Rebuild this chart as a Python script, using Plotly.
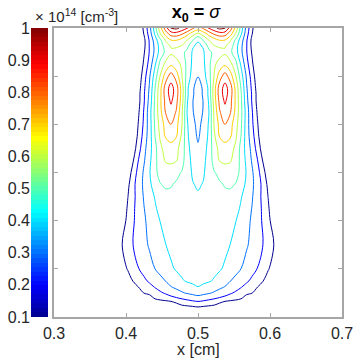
import numpy as np
import plotly.graph_objects as go

# ---------------- data ----------------
# density (x 10^14 cm^-3) on a grid, right half only (the map is symmetric about x = 0.5)
# columns: offset from x = 0.5 [cm]; rows: y [cm], top -> bottom
dx_half = [0, 0.0075, 0.015, 0.0225, 0.03, 0.0375, 0.045, 0.0525, 0.06,
           0.0675, 0.075, 0.0825, 0.09, 0.0975, 0.105, 0.1125, 0.12]

y_rows = [0.6, 0.5875, 0.575, 0.5625, 0.55, 0.525, 0.5, 0.475, 0.4625, 0.45,
          0.425, 0.4, 0.375, 0.35, 0.325, 0.3, 0.275, 0.25, 0.225, 0.2, 0.15,
          0.1, 0.075, 0.0625, 0.05, 0.0375, 0.025, 0.0125, 0.0]

density_half = [
    [0.76, 0.82, 0.91, 0.97, 1.03, 1.01, 0.853, 0.668, 0.452, 0.26, 0.125, 0, 0, 0, 0, 0, 0],
    [0.57, 0.64, 0.73, 0.81, 0.85, 0.84, 0.74, 0.59, 0.41, 0.24, 0.105, 0, 0, 0, 0, 0, 0],
    [0.41, 0.51, 0.60, 0.66, 0.705, 0.70, 0.61, 0.48, 0.345, 0.21, 0.075, 0, 0, 0, 0, 0, 0],
    [0.38, 0.41, 0.53, 0.595, 0.615, 0.61, 0.55, 0.44, 0.32, 0.205, 0.075, 0, 0, 0, 0, 0, 0],
    [0.36, 0.39, 0.475, 0.526, 0.56, 0.58, 0.52, 0.44, 0.32, 0.205, 0.09, 0, 0, 0, 0, 0, 0],
    [0.33, 0.38, 0.47, 0.584, 0.637, 0.68, 0.626, 0.53, 0.38, 0.235, 0.12, 0, 0, 0, 0, 0, 0],
    [0.302, 0.36, 0.46, 0.605, 0.753, 0.85, 0.747, 0.605, 0.443, 0.285, 0.155, 0.036, 0, 0, 0, 0, 0],
    [0.27, 0.31, 0.42, 0.66, 0.85, 0.94, 0.85, 0.67, 0.49, 0.31, 0.18, 0.06, 0, 0, 0, 0, 0],
    [0.265, 0.31, 0.42, 0.66, 0.85, 0.94, 0.85, 0.675, 0.505, 0.32, 0.19, 0.07, 0, 0, 0, 0, 0],
    [0.265, 0.303, 0.41, 0.65, 0.83, 0.92, 0.83, 0.68, 0.51, 0.33, 0.19, 0.07, 0, 0, 0, 0, 0],
    [0.27, 0.305, 0.395, 0.62, 0.79, 0.86, 0.805, 0.67, 0.52, 0.355, 0.21, 0.09, 0, 0, 0, 0, 0],
    [0.28, 0.32, 0.41, 0.61, 0.73, 0.802, 0.735, 0.64, 0.51, 0.35, 0.22, 0.11, 0, 0, 0, 0, 0],
    [0.29, 0.33, 0.42, 0.58, 0.705, 0.73, 0.71, 0.615, 0.495, 0.35, 0.24, 0.13, 0.015, 0, 0, 0, 0],
    [0.31, 0.36, 0.43, 0.56, 0.625, 0.67, 0.64, 0.575, 0.465, 0.36, 0.27, 0.16, 0.05, 0, 0, 0, 0],
    [0.335, 0.375, 0.44, 0.54, 0.605, 0.62, 0.61, 0.555, 0.47, 0.375, 0.29, 0.205, 0.095, 0, 0, 0, 0],
    [0.365, 0.39, 0.44, 0.495, 0.52, 0.55, 0.55, 0.52, 0.485, 0.39, 0.315, 0.235, 0.145, 0.035, 0, 0, 0],
    [0.39, 0.405, 0.43, 0.46, 0.49, 0.505, 0.508, 0.497, 0.44, 0.38, 0.32, 0.25, 0.175, 0.075, 0, 0, 0],
    [0.41, 0.415, 0.43, 0.45, 0.47, 0.485, 0.485, 0.443, 0.405, 0.358, 0.309, 0.245, 0.174, 0.097, 0, 0, 0],
    [0.425, 0.43, 0.44, 0.455, 0.465, 0.47, 0.465, 0.43, 0.385, 0.34, 0.297, 0.24, 0.185, 0.115, 0.02, 0, 0],
    [0.435, 0.44, 0.45, 0.455, 0.46, 0.455, 0.44, 0.402, 0.365, 0.327, 0.287, 0.236, 0.19, 0.13, 0.048, 0, 0],
    [0.45, 0.45, 0.45, 0.445, 0.44, 0.425, 0.398, 0.37, 0.34, 0.31, 0.276, 0.238, 0.201, 0.153, 0.104, 0, 0],
    [0.45, 0.45, 0.44, 0.425, 0.41, 0.385, 0.355, 0.327, 0.299, 0.267, 0.234, 0.198, 0.158, 0.114, 0.028, 0, 0],
    [0.43, 0.42, 0.41, 0.39, 0.36, 0.33, 0.302, 0.275, 0.245, 0.215, 0.18, 0.145, 0.11, 0.015, 0, 0, 0],
    [0.398, 0.38, 0.36, 0.34, 0.318, 0.297, 0.266, 0.235, 0.205, 0.171, 0.138, 0.104, 0.02, 0, 0, 0, 0],
    [0.34, 0.325, 0.31, 0.29, 0.268, 0.243, 0.212, 0.186, 0.159, 0.132, 0.105, 0.026, 0, 0, 0, 0, 0],
    [0.25, 0.235, 0.216, 0.198, 0.18, 0.16, 0.14, 0.12, 0.098, 0.023, 0, 0, 0, 0, 0, 0, 0],
    [0.13, 0.12, 0.112, 0.103, 0.064, 0.01, 0, 0, 0, 0, 0, 0, 0, 0, 0, 0, 0],
    [0.04, 0.035, 0.03, 0.02, 0, 0, 0, 0, 0, 0, 0, 0, 0, 0, 0, 0, 0],
    [0, 0, 0, 0, 0, 0, 0, 0, 0, 0, 0, 0, 0, 0, 0, 0, 0],
]

cbar_ticks = [0.1, 0.2, 0.3, 0.4, 0.5, 0.6, 0.7, 0.8, 0.9, 1]
x_ticks = [0.3, 0.4, 0.5, 0.6, 0.7]

# ---------------- build full grid ----------------
half = np.array(density_half)
dx = np.array(dx_half)
z = np.hstack([half[:, :0:-1], half])[::-1]
x = np.concatenate([0.5 - dx[:0:-1], 0.5 + dx])
y = np.array(y_rows)[::-1]

# matlab jet
jet = [[0, 'rgb(0,0,143)'], [0.11, 'rgb(0,0,255)'], [0.365, 'rgb(0,255,255)'],
       [0.619, 'rgb(255,255,0)'], [0.873, 'rgb(255,0,0)'], [1, 'rgb(128,0,0)']]

# colour bar drawn as a narrow heatmap (64 bands like jet(64))
cb_edges = np.linspace(cbar_ticks[0], cbar_ticks[-1], 65)
cb_z = [[v] for v in (cb_edges[:-1] + cb_edges[1:]) / 2]

fig = go.Figure()
fig.add_trace(go.Contour(x=x, y=y, z=z, colorscale=jet, autocontour=False,
                         contours=dict(start=0.1, end=1.0, size=0.1, coloring='lines'),
                         line=dict(width=1, smoothing=1), showscale=False))
fig.add_trace(go.Heatmap(x=[0, 1], y=cb_edges, z=cb_z, colorscale=jet, zmin=0.1, zmax=1,
                         showscale=False, xaxis='x2', yaxis='y2'))

W = 342.0
font = dict(family='Liberation Sans, Arial, sans-serif', size=16, color='#262626')
frame = dict(showline=True, linecolor='#a6a6a6', linewidth=1.5, ticks='inside', ticklen=4,
             tickcolor='#a6a6a6', mirror='ticks', showgrid=False, zeroline=False)

fig.update_layout(
    width=360, height=360, margin=dict(l=0, r=18, t=28, b=43, autoexpand=False),
    paper_bgcolor='white', plot_bgcolor='white', font=font, showlegend=False,
    title=dict(text='<b>x<sub>0</sub> =</b> <i>σ</i>', x=196 / 360, xanchor='center',
               y=1 - 12 / 360, yanchor='middle', font=dict(size=18, color='black')),
    xaxis=dict(domain=[54 / W, 1], range=[0.3, 0.7], tickvals=x_ticks, anchor='y',
               ticklabelstandoff=1, **frame),
    yaxis=dict(domain=[0, 1], range=[0, 0.6], dtick=0.1, showticklabels=False, anchor='x', **frame),
    xaxis2=dict(domain=[31 / W, 48 / W], range=[0, 1], visible=False, anchor='y2'),
    yaxis2=dict(domain=[0, 1], range=[0.1, 1], tickvals=cbar_ticks, anchor='x2', side='left',
                showline=False, ticks='', showgrid=False, zeroline=False),
    annotations=[
        dict(text='× 10<sup>14</sup> [cm<sup>-3</sup>]', xref='paper', yref='paper',
             x=33 / W, y=1, xanchor='left', yanchor='bottom', yshift=1,
             showarrow=False, font=dict(size=15, color='#262626')),
        dict(text='x [cm]', xref='paper', yref='paper', x=198 / W,
             y=0, xanchor='center', yanchor='top', yshift=-22,
             showarrow=False, font=dict(size=16, color='#262626')),
    ],
)

fig.write_html("out.html", config={'displayModeBar': False},
               post_script="document.body.style.margin='0';")
